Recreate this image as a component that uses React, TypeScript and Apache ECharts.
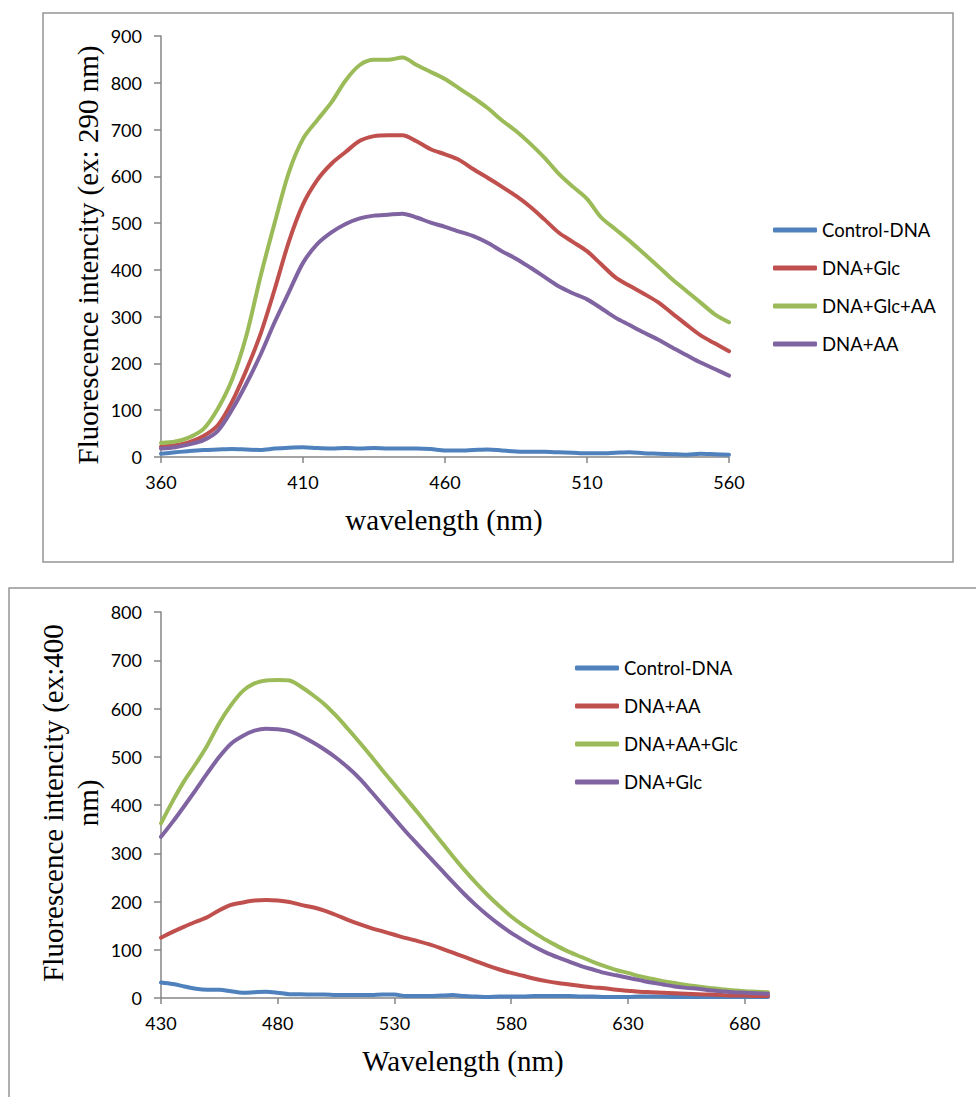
import React, { useEffect, useRef } from 'react';
import * as echarts from 'echarts';

// ---------- Top chart (ex: 290 nm) ----------
const topWavelength = [360, 365, 370, 375, 380, 385, 390, 395, 400, 405, 410, 415, 420, 425, 430, 435, 440, 445, 450, 455, 460, 465, 470, 475, 480, 485, 490, 495, 500, 505, 510, 515, 520, 525, 530, 535, 540, 545, 550, 555, 560];
const topControlDNA = [7, 10, 13, 15, 16, 17, 16, 15, 18, 20, 21, 19, 18, 19, 18, 19, 18, 18, 18, 17, 14, 14, 15, 16, 14, 12, 11, 11, 10, 9, 8, 8, 9, 10, 8, 7, 6, 5, 7, 6, 5];
const topDnaGlc = [22, 25, 32, 45, 68, 118, 185, 262, 358, 460, 540, 592, 627, 652, 676, 686, 688, 688, 675, 658, 647, 635, 615, 597, 578, 558, 535, 508, 480, 460, 440, 412, 384, 366, 349, 331, 307, 283, 260, 243, 226];
const topDnaGlcAA = [30, 33, 42, 60, 103, 165, 258, 385, 500, 608, 680, 720, 758, 805, 838, 849, 849, 854, 838, 823, 808, 788, 768, 746, 720, 697, 670, 640, 606, 578, 552, 512, 487, 462, 435, 408, 380, 355, 330, 305, 288];
const topDnaAA = [18, 21, 27, 36, 56, 101, 156, 218, 288, 352, 415, 455, 480, 498, 510, 516, 518, 520, 512, 501, 492, 482, 472, 458, 440, 424, 405, 385, 365, 350, 337, 318, 298, 282, 266, 251, 234, 218, 202, 188, 174];
const topYTicks = { min: 0, max: 900, interval: 100 };
const topXTicks = { min: 360, max: 560, interval: 50 };

// ---------- Bottom chart (ex: 400 nm) ----------
const botWavelength = [430, 435, 440, 445, 450, 455, 460, 465, 470, 475, 480, 485, 490, 495, 500, 505, 510, 515, 520, 525, 530, 535, 540, 545, 550, 555, 560, 565, 570, 575, 580, 585, 590, 595, 600, 605, 610, 615, 620, 625, 630, 635, 640, 645, 650, 655, 660, 665, 670, 675, 680, 685, 690];
const botControlDNA = [32, 29, 24, 19, 17, 17, 14, 11, 12, 13, 11, 8, 8, 7, 7, 6, 6, 6, 6, 7, 7, 4, 4, 4, 5, 6, 4, 3, 2, 3, 3, 3, 4, 4, 4, 4, 3, 3, 2, 2, 2, 3, 3, 3, 2, 2, 2, 2, 2, 2, 2, 2, 2];
const botDnaAA = [125, 137, 148, 158, 168, 182, 193, 198, 202, 203, 202, 199, 193, 188, 181, 172, 162, 153, 145, 138, 131, 124, 118, 111, 103, 94, 85, 76, 67, 59, 52, 46, 40, 35, 31, 28, 25, 22, 20, 17, 15, 13, 12, 11, 10, 9, 8, 7, 6, 5, 5, 4, 4];
const botDnaAAGlc = [362, 408, 450, 486, 525, 570, 607, 636, 652, 658, 659, 658, 645, 628, 609, 585, 558, 530, 501, 471, 442, 413, 384, 354, 324, 294, 265, 238, 213, 190, 169, 151, 135, 120, 107, 95, 85, 75, 66, 58, 52, 45, 40, 35, 31, 27, 24, 21, 18, 16, 14, 13, 12];
const botDnaGlc = [334, 365, 398, 432, 467, 500, 527, 543, 554, 558, 557, 553, 543, 530, 515, 498, 478, 455, 428, 400, 372, 344, 318, 292, 266, 240, 215, 192, 171, 152, 135, 120, 106, 94, 84, 75, 66, 59, 52, 47, 42, 37, 32, 28, 24, 21, 19, 16, 14, 12, 11, 10, 9];
const botXTickValues = [430, 480, 530, 580, 630, 680];
const botYTicks = { min: 0, max: 800, interval: 100 };
const botXRange = { min: 430, max: 690 };

const BLUE = '#4F81BD';
const RED = '#C0504D';
const GREEN = '#9BBB59';
const PURPLE = '#8064A2';

const SANS = 'Lato, "Open Sans", sans-serif';
const SERIF = '"Liberation Serif", "Times New Roman", serif';
const AXIS_COLOR = '#868686';

function pairs(xs: number[], ys: number[]) {
  return xs.map((x, i) => [x, ys[i]]);
}

function lineSeries(name: string, xs: number[], ys: number[], color: string) {
  return {
    type: 'line',
    name,
    data: pairs(xs, ys),
    showSymbol: false,
    symbol: 'none',
    smooth: 0.3,
    lineStyle: { color, width: 4, cap: 'round', join: 'round' },
    itemStyle: { color },
    emphasis: { disabled: true },
  };
}

const axisLine = { show: true, onZero: false, lineStyle: { color: AXIS_COLOR, width: 1.5 } };
const axisTickStyle = { lineStyle: { color: AXIS_COLOR, width: 1.5 } };
const labelStyle = { color: '#000', fontFamily: SANS, fontSize: 18 };

function legend(left: number, top: number, names: string[]) {
  return {
    orient: 'vertical',
    left,
    top,
    padding: 0,
    itemWidth: 44,
    itemHeight: 5,
    itemGap: 18,
    icon: 'roundRect',
    selectedMode: false,
    textStyle: { color: '#000', fontFamily: SANS, fontSize: 18.5, lineHeight: 20 },
    data: names,
  };
}

const optionTop = {
  animation: false,
  grid: { left: 161, top: 36, width: 568, height: 421, outerBoundsMode: 'none' },
  xAxis: {
    type: 'value',
    ...topXTicks,
    axisLine,
    axisTick: { show: true, length: 6, ...axisTickStyle },
    axisLabel: { ...labelStyle, margin: 16 },
    splitLine: { show: false },
  },
  yAxis: {
    type: 'value',
    ...topYTicks,
    axisLine,
    axisTick: { show: true, length: 7, ...axisTickStyle },
    axisLabel: { ...labelStyle, margin: 19 },
    splitLine: { show: false },
  },
  legend: legend(773, 220, ['Control-DNA', 'DNA+Glc', 'DNA+Glc+AA', 'DNA+AA']),
  series: [
    lineSeries('Control-DNA', topWavelength, topControlDNA, BLUE),
    lineSeries('DNA+Glc', topWavelength, topDnaGlc, RED),
    lineSeries('DNA+Glc+AA', topWavelength, topDnaGlcAA, GREEN),
    lineSeries('DNA+AA', topWavelength, topDnaAA, PURPLE),
  ],
  graphic: [
    {
      type: 'rect',
      silent: true,
      shape: { x: 43, y: 13, width: 910, height: 549 },
      style: { fill: 'none', stroke: '#959595', lineWidth: 1.5 },
    },
    {
      type: 'text',
      silent: true,
      x: 444,
      y: 520,
      style: { text: 'wavelength (nm)', font: `29px ${SERIF}`, fill: '#000', textAlign: 'center', textVerticalAlign: 'middle' },
    },
    {
      type: 'text',
      silent: true,
      x: 88,
      y: 255,
      rotation: Math.PI / 2,
      style: { text: 'Fluorescence intencity (ex: 290 nm)', font: `29px ${SERIF}`, fill: '#000', textAlign: 'center', textVerticalAlign: 'middle' },
    },
  ],
};

const optionBottom = {
  animation: false,
  grid: { left: 161, top: 37, width: 607, height: 386, outerBoundsMode: 'none' },
  xAxis: {
    type: 'value',
    ...botXRange,
    axisLine,
    axisTick: { show: true, length: 6, customValues: botXTickValues, ...axisTickStyle },
    axisLabel: { ...labelStyle, margin: 16, customValues: botXTickValues },
    splitLine: { show: false },
  },
  yAxis: {
    type: 'value',
    ...botYTicks,
    axisLine,
    axisTick: { show: true, length: 7, ...axisTickStyle },
    axisLabel: { ...labelStyle, margin: 19 },
    splitLine: { show: false },
  },
  legend: legend(575, 83, ['Control-DNA', 'DNA+AA', 'DNA+AA+Glc', 'DNA+Glc']),
  series: [
    lineSeries('Control-DNA', botWavelength, botControlDNA, BLUE),
    lineSeries('DNA+AA', botWavelength, botDnaAA, RED),
    lineSeries('DNA+AA+Glc', botWavelength, botDnaAAGlc, GREEN),
    lineSeries('DNA+Glc', botWavelength, botDnaGlc, PURPLE),
  ],
  graphic: [
    {
      type: 'rect',
      silent: true,
      shape: { x: 9, y: 13, width: 1200, height: 800 },
      style: { fill: 'none', stroke: '#959595', lineWidth: 1.5 },
    },
    {
      type: 'text',
      silent: true,
      x: 463,
      y: 486,
      style: { text: 'Wavelength (nm)', font: `29px ${SERIF}`, fill: '#000', textAlign: 'center', textVerticalAlign: 'middle' },
    },
    {
      type: 'text',
      silent: true,
      x: 70,
      y: 228,
      rotation: Math.PI / 2,
      style: { text: 'Fluorescence intencity (ex:400\nnm)', font: `29px ${SERIF}`, lineHeight: 35, fill: '#000', textAlign: 'center', textVerticalAlign: 'middle' },
    },
  ],
};

export default function App() {
  const refTop = useRef<HTMLDivElement>(null);
  const refBottom = useRef<HTMLDivElement>(null);

  useEffect(() => {
    const a = echarts.init(refTop.current!, null, { renderer: 'svg' });
    const b = echarts.init(refBottom.current!, null, { renderer: 'svg' });
    a.setOption(optionTop as any);
    b.setOption(optionBottom as any);
    return () => {
      a.dispose();
      b.dispose();
    };
  }, []);

  return (
    <div>
      <div ref={refTop} style={{ position: 'absolute', left: 0, top: 0, width: 976, height: 575 }} />
      <div ref={refBottom} style={{ position: 'absolute', left: 0, top: 575, width: 976, height: 522 }} />
    </div>
  );
}
